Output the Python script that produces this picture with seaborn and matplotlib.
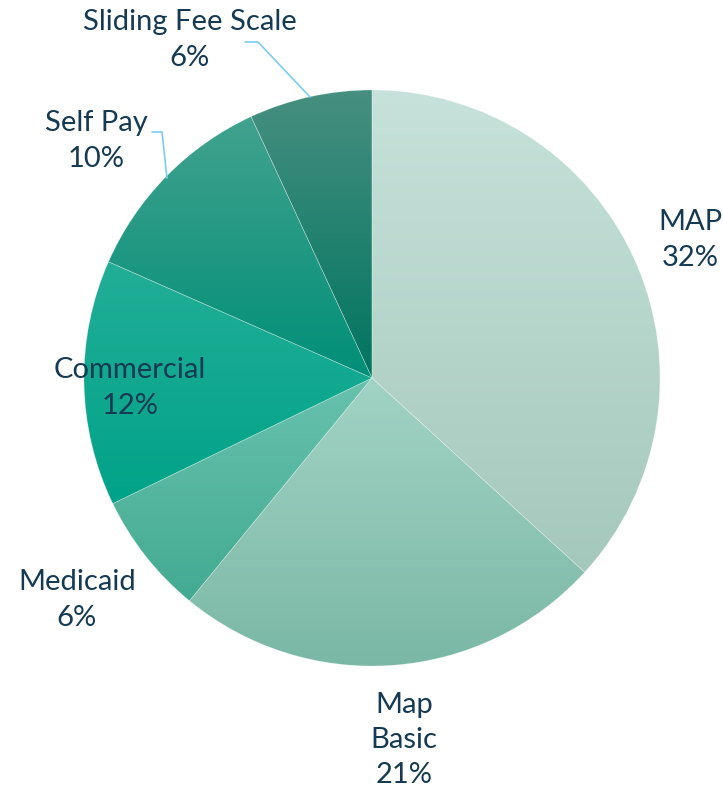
import numpy as np
import matplotlib
matplotlib.use("Agg")
import matplotlib.pyplot as plt
from matplotlib.colors import LinearSegmentedColormap
import seaborn as sns

categories = ["MAP", "Map\nBasic", "Medicaid", "Commercial", "Self Pay", "Sliding Fee Scale"]
values = [32, 21, 6, 12, 10, 6]
pct_labels = ["32%", "21%", "6%", "12%", "10%", "6%"]
grad_top = ["#c6e2da", "#a2d3c5", "#68c2ad", "#22ae97", "#42a28e", "#478f80"]
grad_bot = ["#a5c8bc", "#7ab7a5", "#43aa92", "#00a388", "#008f78", "#007560"]

sns.set_theme(style="white")
plt.rcParams['font.family'] = ['Lato', 'DejaVu Sans']

W, H = 723, 795
CX, CY, R = 372, 378, 288

fig = plt.figure(figsize=(W / 100, H / 100), dpi=100)
ax = fig.add_axes([0, 0, 1, 1])

def px(x, y):
    return ((x - CX) / R, (CY - y) / R)

wedges, _ = ax.pie(values, startangle=90, counterclock=False, radius=1,
                   center=(0, 0),
                   wedgeprops=dict(linewidth=0.5, edgecolor=(1, 1, 1, 0.3)))

grad = np.linspace(0, 1, 256).reshape(-1, 1)
for w, c1, c2 in zip(wedges, grad_top, grad_bot):
    v = w.get_path().vertices
    ymin, ymax = v[:, 1].min(), v[:, 1].max()
    xmin, xmax = v[:, 0].min(), v[:, 0].max()
    cmap = LinearSegmentedColormap.from_list("g", [c1, c2])
    im = ax.imshow(grad, extent=[xmin, xmax, ymin, ymax], origin="upper",
                   cmap=cmap, aspect="auto", zorder=1, interpolation="bilinear")
    im.set_clip_path(w)
    w.set_facecolor("none")
    w.set_zorder(2)

ax.set_xlim(-CX / R, (W - CX) / R)
ax.set_ylim((CY - H) / R, CY / R)
ax.set_aspect("auto")
ax.axis("off")

txt_color = "#163a52"
fs = 21
label_pos = [(690, 240), (404, 740), (77, 600), (130, 388), (96, 141), (190, 40)]
for cat, pct, (x, y) in zip(categories, pct_labels, label_pos):
    tx, ty = px(x, y)
    ax.text(tx, ty, f"{cat}\n{pct}", ha="center", va="center", fontsize=fs,
            color=txt_color, linespacing=1.45, zorder=5)

line_color = "#7ccdf2"
# leader lines
sp = [px(152, 132), px(162, 132), px(167, 178)]
ax.plot([p[0] for p in sp], [p[1] for p in sp], color=line_color, lw=1.2, zorder=4)
sf = [px(245, 42), px(258, 42), px(310, 97)]
ax.plot([p[0] for p in sf], [p[1] for p in sf], color=line_color, lw=1.2, zorder=4)

fig.savefig("out.png", dpi=100, facecolor="white")
